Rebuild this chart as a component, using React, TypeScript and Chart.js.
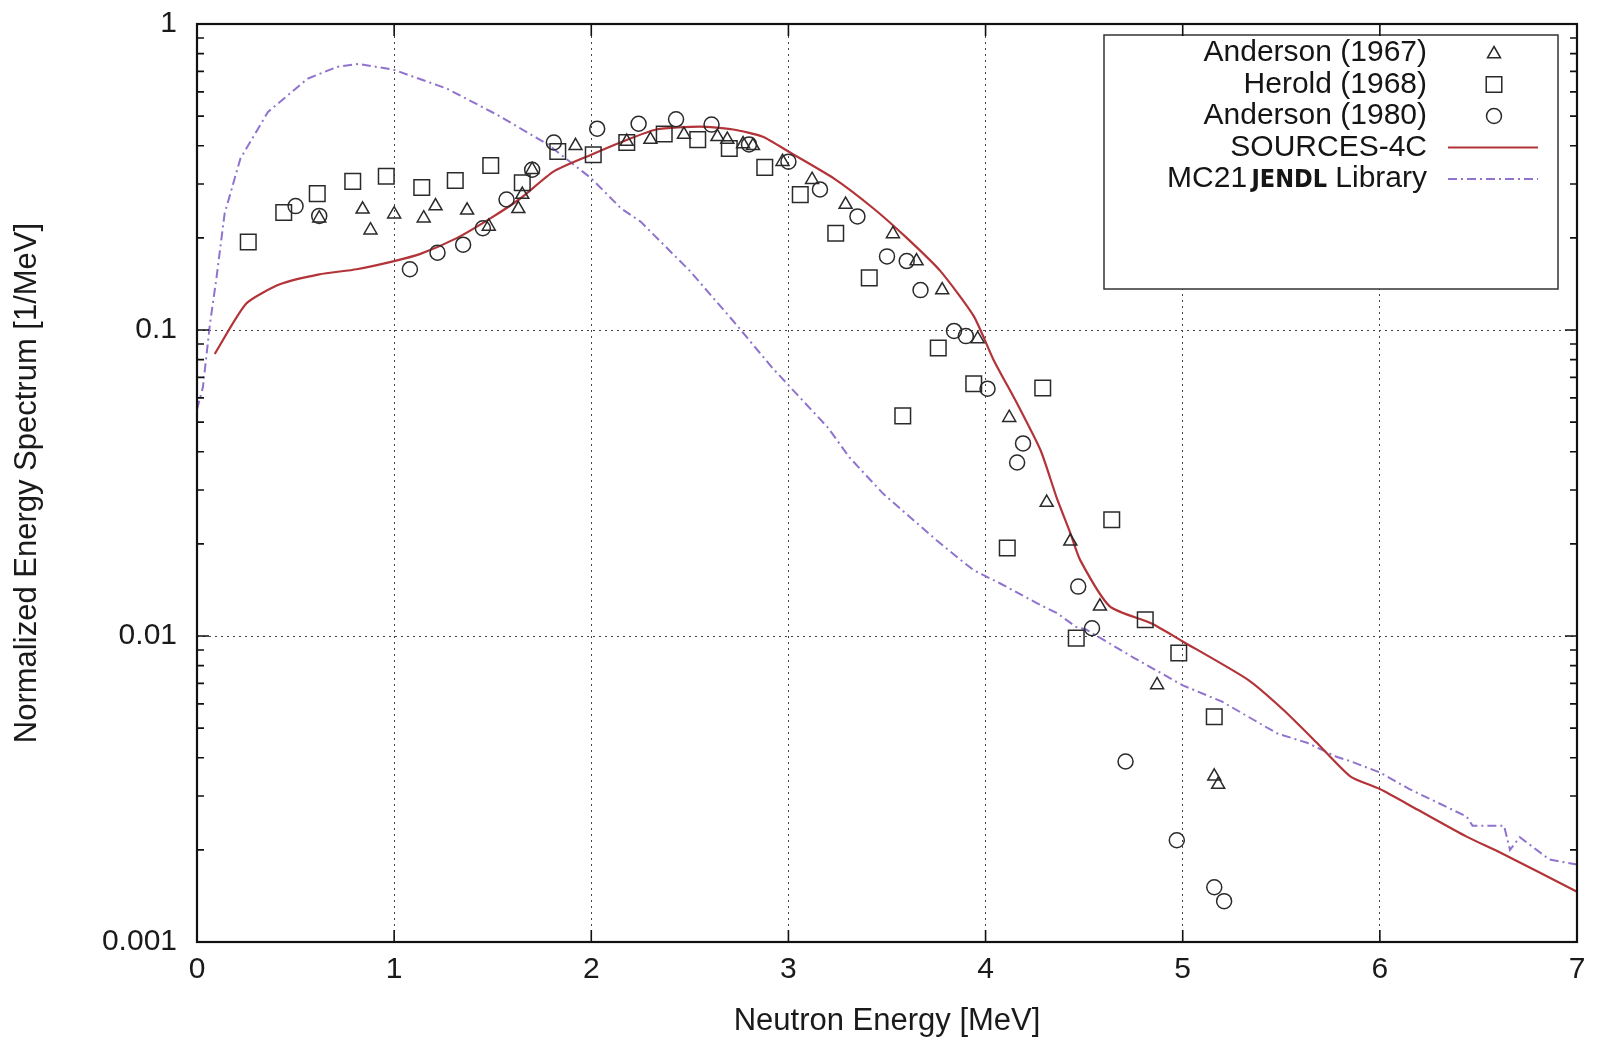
import React, { useEffect, useRef } from 'react';
import { Chart, registerables } from 'chart.js';

Chart.register(...registerables);

const FONT = "'Liberation Sans', Arial, Helvetica, sans-serif";

// ---- Data (Neutron energy in MeV, normalized spectrum in 1/MeV) ----
const anderson1967E = [0.62, 0.84, 0.88, 1.0, 1.15, 1.21, 1.37, 1.48, 1.63, 1.65, 1.70, 1.92, 2.18, 2.30, 2.47, 2.64, 2.69, 2.77, 2.82, 2.97, 3.12, 3.29, 3.53, 3.65, 3.78, 3.96, 4.12, 4.31, 4.43, 4.58, 4.87, 5.16, 5.18];
const anderson1967Y = [0.232, 0.248, 0.212, 0.239, 0.232, 0.254, 0.246, 0.218, 0.249, 0.277, 0.334, 0.400, 0.413, 0.419, 0.435, 0.428, 0.419, 0.405, 0.400, 0.355, 0.310, 0.257, 0.206, 0.168, 0.135, 0.0935, 0.0517, 0.0273, 0.0204, 0.0125, 0.00692, 0.00348, 0.00327];

const herold1968E = [0.26, 0.44, 0.61, 0.79, 0.96, 1.14, 1.31, 1.49, 1.65, 1.83, 2.01, 2.18, 2.37, 2.54, 2.70, 2.88, 3.06, 3.24, 3.41, 3.58, 3.76, 3.94, 4.11, 4.29, 4.46, 4.64, 4.81, 4.98, 5.16];
const herold1968Y = [0.194, 0.242, 0.279, 0.306, 0.318, 0.292, 0.308, 0.345, 0.303, 0.383, 0.374, 0.410, 0.437, 0.419, 0.392, 0.340, 0.277, 0.207, 0.148, 0.0524, 0.0873, 0.0667, 0.0194, 0.0646, 0.00984, 0.0240, 0.0113, 0.0088, 0.00545];

const anderson1980E = [0.50, 0.62, 1.08, 1.22, 1.35, 1.45, 1.57, 1.70, 1.81, 2.03, 2.24, 2.43, 2.61, 2.80, 3.00, 3.16, 3.35, 3.50, 3.60, 3.67, 3.84, 3.90, 4.01, 4.16, 4.19, 4.47, 4.54, 4.71, 4.97, 5.16, 5.21];
const anderson1980Y = [0.254, 0.236, 0.158, 0.179, 0.190, 0.215, 0.267, 0.334, 0.410, 0.455, 0.472, 0.488, 0.469, 0.404, 0.355, 0.288, 0.235, 0.174, 0.168, 0.135, 0.0993, 0.0955, 0.0643, 0.0369, 0.0426, 0.0145, 0.0106, 0.00389, 0.00215, 0.00151, 0.00136];

const sources4cE = [0.09, 0.25, 0.42, 0.62, 0.81, 1.00, 1.13, 1.32, 1.49, 1.64, 1.81, 2.00, 2.16, 2.33, 2.55, 2.72, 2.87, 3.00, 3.23, 3.43, 3.60, 3.77, 3.94, 4.04, 4.16, 4.28, 4.36, 4.43, 4.48, 4.63, 4.84, 5.00, 5.33, 5.51, 5.68, 5.85, 6.00, 6.19, 6.44, 6.61, 7.00];
const sources4cY = [0.0835, 0.122, 0.141, 0.152, 0.158, 0.168, 0.177, 0.200, 0.232, 0.269, 0.330, 0.374, 0.413, 0.452, 0.462, 0.452, 0.428, 0.383, 0.313, 0.250, 0.200, 0.156, 0.111, 0.080, 0.0575, 0.0403, 0.0284, 0.0217, 0.0177, 0.0125, 0.0110, 0.0096, 0.0072, 0.00574, 0.00448, 0.00348, 0.00316, 0.00271, 0.00221, 0.00196, 0.00146];

const mc21E = [0.00, 0.03, 0.066, 0.10, 0.14, 0.22, 0.36, 0.56, 0.71, 0.82, 1.00, 1.27, 1.52, 1.78, 2.00, 2.15, 2.25, 2.45, 2.50, 2.72, 2.92, 3.20, 3.31, 3.48, 3.75, 3.86, 3.94, 3.99, 4.07, 4.26, 4.36, 4.46, 4.51, 4.75, 5.00, 5.20, 5.48, 5.63, 5.78, 5.85, 6.00, 6.15, 6.44, 6.47, 6.63, 6.66, 6.71, 6.86, 7.00];
const mc21Y = [0.055, 0.065, 0.105, 0.150, 0.240, 0.363, 0.516, 0.662, 0.724, 0.741, 0.708, 0.614, 0.506, 0.404, 0.313, 0.250, 0.226, 0.168, 0.156, 0.107, 0.075, 0.048, 0.0383, 0.0292, 0.0206, 0.0180, 0.0164, 0.0158, 0.0149, 0.0128, 0.0119, 0.0107, 0.0105, 0.0085, 0.0069, 0.0061, 0.0048, 0.00448, 0.00403, 0.0039, 0.00358, 0.00316, 0.00257, 0.0024, 0.0024, 0.0020, 0.0022, 0.00186, 0.00179];

const xTickValues = [0, 1, 2, 3, 4, 5, 6, 7];
const xTickLabels = ['0', '1', '2', '3', '4', '5', '6', '7'];
const yTickValues = [0.001, 0.01, 0.1, 1];
const yTickLabels = ['0.001', '0.01', '0.1', '1'];

const seriesNames = ['Anderson (1967)', 'Herold (1968)', 'Anderson (1980)', 'SOURCES-4C', 'MC21'];

const RED = 'rgb(178, 52, 56)';
const PURPLE = 'rgb(143, 115, 205)';
const MARK = '#2a2a2a';
const PURPLE_DASH = [9, 4, 2, 4];

const toXY = (xs: number[], ys: number[]) => xs.map((x, i) => ({ x, y: ys[i] }));

function drawMarker(ctx: CanvasRenderingContext2D, kind: string, x: number, y: number) {
  ctx.beginPath();
  if (kind === 'triangle') {
    const r = 7.5;
    ctx.moveTo(x, y - r);
    ctx.lineTo(x + r * Math.sin((2 * Math.PI) / 3), y - r * Math.cos((2 * Math.PI) / 3));
    ctx.lineTo(x + r * Math.sin((4 * Math.PI) / 3), y - r * Math.cos((4 * Math.PI) / 3));
    ctx.closePath();
  } else if (kind === 'rect') {
    const h = 11 * Math.SQRT1_2;
    ctx.rect(x - h, y - h, 2 * h, 2 * h);
  } else {
    ctx.arc(x, y, 7.5, 0, Math.PI * 2);
  }
  ctx.stroke();
}

const legendPlugin = {
  id: 'gnuLegend',
  afterDatasetsDraw(chart: any) {
    const { ctx, chartArea: a } = chart;
    const w = 454;
    const h = 254;
    const left = a.right - 19 - w;
    const top = a.top + 11;
    ctx.save();
    ctx.fillStyle = '#ffffff';
    ctx.fillRect(left, top, w, h);
    ctx.strokeStyle = '#333';
    ctx.lineWidth = 1.5;
    ctx.strokeRect(left, top, w, h);

    const textRight = left + 323;
    const symX = left + 390;
    const lineX1 = left + 344;
    const lineX2 = left + 434;
    const rowY = (i: number) => top + 18 + i * 31.5;

    ctx.font = `30px ${FONT}`;
    ctx.fillStyle = '#151515';
    ctx.textBaseline = 'middle';
    ctx.textAlign = 'right';
    for (let i = 0; i < 4; i++) {
      ctx.fillText(seriesNames[i], textRight, rowY(i));
    }
    // "MC21 JENDL Library" with bold JENDL
    const p1 = 'MC21 ';
    const p2 = 'JENDL';
    const p3 = ' Library';
    const boldFont = `bold 25px 'DejaVu Sans Condensed', 'DejaVu Sans', ${FONT}`;
    ctx.font = `30px ${FONT}`;
    const w1 = ctx.measureText(p1).width;
    const w3 = ctx.measureText(p3).width;
    ctx.font = boldFont;
    const w2 = ctx.measureText(p2).width;
    let sx = textRight - (w1 - 4 + w2 + w3);
    ctx.textAlign = 'left';
    ctx.font = `30px ${FONT}`;
    ctx.fillText(p1, sx, rowY(4));
    sx += w1 - 4;
    ctx.font = boldFont;
    ctx.fillText(p2, sx, rowY(4) + 1);
    sx += w2;
    ctx.font = `30px ${FONT}`;
    ctx.fillText(p3, sx, rowY(4));

    ctx.strokeStyle = MARK;
    ctx.lineWidth = 1.5;
    drawMarker(ctx, 'triangle', symX, rowY(0) + 1);
    drawMarker(ctx, 'rect', symX, rowY(1));
    drawMarker(ctx, 'circle', symX, rowY(2));

    ctx.lineWidth = 2.2;
    ctx.strokeStyle = RED;
    ctx.beginPath();
    ctx.moveTo(lineX1, rowY(3));
    ctx.lineTo(lineX2, rowY(3));
    ctx.stroke();

    ctx.strokeStyle = PURPLE;
    ctx.lineWidth = 2;
    ctx.setLineDash(PURPLE_DASH);
    ctx.beginPath();
    ctx.moveTo(lineX1, rowY(4));
    ctx.lineTo(lineX2, rowY(4));
    ctx.stroke();
    ctx.restore();
  },
};

const framePlugin = {
  id: 'gnuFrame',
  afterDraw(chart: any) {
    const { ctx, chartArea: a, scales } = chart;
    const xs = scales.x;
    const ys = scales.y;
    ctx.save();
    ctx.strokeStyle = '#111';
    ctx.lineWidth = 1.6;
    ctx.beginPath();
    for (const v of xTickValues) {
      const px = xs.getPixelForValue(v);
      ctx.moveTo(px, a.bottom);
      ctx.lineTo(px, a.bottom - 12);
      ctx.moveTo(px, a.top);
      ctx.lineTo(px, a.top + 12);
    }
    for (const v of yTickValues) {
      const py = ys.getPixelForValue(v);
      ctx.moveTo(a.left, py);
      ctx.lineTo(a.left + 12, py);
      ctx.moveTo(a.right, py);
      ctx.lineTo(a.right - 12, py);
    }
    for (let d = 0; d < yTickValues.length - 1; d++) {
      for (let m = 2; m <= 9; m++) {
        const py = ys.getPixelForValue(yTickValues[d] * m);
        ctx.moveTo(a.left, py);
        ctx.lineTo(a.left + 7, py);
        ctx.moveTo(a.right, py);
        ctx.lineTo(a.right - 7, py);
      }
    }
    ctx.stroke();
    ctx.lineWidth = 2.2;
    ctx.strokeRect(a.left, a.top, a.right - a.left, a.bottom - a.top);
    ctx.restore();
  },
};

export default function App() {
  const canvasRef = useRef<HTMLCanvasElement | null>(null);

  useEffect(() => {
    const canvas = canvasRef.current;
    if (!canvas) return;

    const markerDs = (label: string, xs: number[], ys: number[], style: string, radius: number) => ({
      label,
      data: toXY(xs, ys),
      showLine: false,
      pointStyle: style,
      pointRadius: radius,
      pointHoverRadius: radius,
      pointBorderColor: MARK,
      pointBackgroundColor: 'rgba(0,0,0,0)',
      pointBorderWidth: 1.5,
      borderColor: MARK,
      backgroundColor: 'rgba(0,0,0,0)',
      order: 1,
    });

    const chart = new Chart(canvas, {
      type: 'line',
      data: {
        datasets: [
          {
            label: seriesNames[4],
            data: toXY(mc21E, mc21Y),
            borderColor: PURPLE,
            borderWidth: 2,
            borderDash: PURPLE_DASH,
            pointRadius: 0,
            fill: false,
            tension: 0,
            order: 3,
          },
          {
            label: seriesNames[3],
            data: toXY(sources4cE, sources4cY),
            borderColor: RED,
            borderWidth: 2.2,
            pointRadius: 0,
            fill: false,
            tension: 0.2,
            order: 2,
          },
          markerDs(seriesNames[0], anderson1967E, anderson1967Y, 'triangle', 7.5),
          markerDs(seriesNames[1], herold1968E, herold1968Y, 'rect', 11),
          markerDs(seriesNames[2], anderson1980E, anderson1980Y, 'circle', 7.5),
        ] as any,
      },
      options: {
        responsive: false,
        animation: false,
        events: [],
        layout: { padding: { left: 0, right: 21, top: 24, bottom: 0 } },
        plugins: {
          legend: { display: false },
          tooltip: { enabled: false },
        },
        scales: {
          x: {
            type: 'linear',
            min: 0,
            max: 7,
            afterFit: (scale: any) => {
              scale.height = 105;
              scale.paddingLeft = 0;
              scale.paddingRight = 0;
            },
            afterBuildTicks: (scale: any) => {
              scale.ticks = xTickValues.map((v) => ({ value: v }));
            },
            ticks: {
              callback: (_v: any, i: number) => xTickLabels[i],
              font: { family: FONT, size: 30 },
              color: '#1a1a1a',
              padding: 10,
              maxRotation: 0,
              autoSkip: false,
            },
            grid: {
              color: '#444',
              lineWidth: 1,
              drawTicks: false,
            },
            border: { display: false, dash: [2, 4] },
            title: {
              display: true,
              text: 'Neutron Energy [MeV]',
              font: { family: FONT, size: 31, lineHeight: 1.2 },
              color: '#1a1a1a',
              padding: { top: 0, bottom: 7 },
            },
          },
          y: {
            type: 'logarithmic',
            min: 0.001,
            max: 1,
            afterFit: (scale: any) => {
              scale.width = 197;
              scale.paddingTop = 0;
              scale.paddingBottom = 0;
            },
            afterBuildTicks: (scale: any) => {
              scale.ticks = yTickValues.map((v) => ({ value: v, major: true }));
            },
            ticks: {
              callback: (_v: any, i: number) => yTickLabels[i],
              font: { family: FONT, size: 30 },
              color: '#1a1a1a',
              padding: 20,
              autoSkip: false,
            },
            grid: {
              color: '#444',
              lineWidth: 1,
              drawTicks: false,
            },
            border: { display: false, dash: [2, 4] },
            title: {
              display: true,
              text: 'Normalized Energy Spectrum [1/MeV]',
              font: { family: FONT, size: 31, lineHeight: 1.2 },
              color: '#1a1a1a',
              padding: { top: 9, bottom: 0 },
            },
          },
        },
      } as any,
      plugins: [legendPlugin, framePlugin],
    });

    return () => {
      chart.destroy();
    };
  }, []);

  return (
    <div style={{ position: 'fixed', left: 0, top: 0, width: 1598, height: 1047, background: '#fff' }}>
      <canvas ref={canvasRef} width={1598} height={1047} style={{ display: 'block' }} />
    </div>
  );
}
